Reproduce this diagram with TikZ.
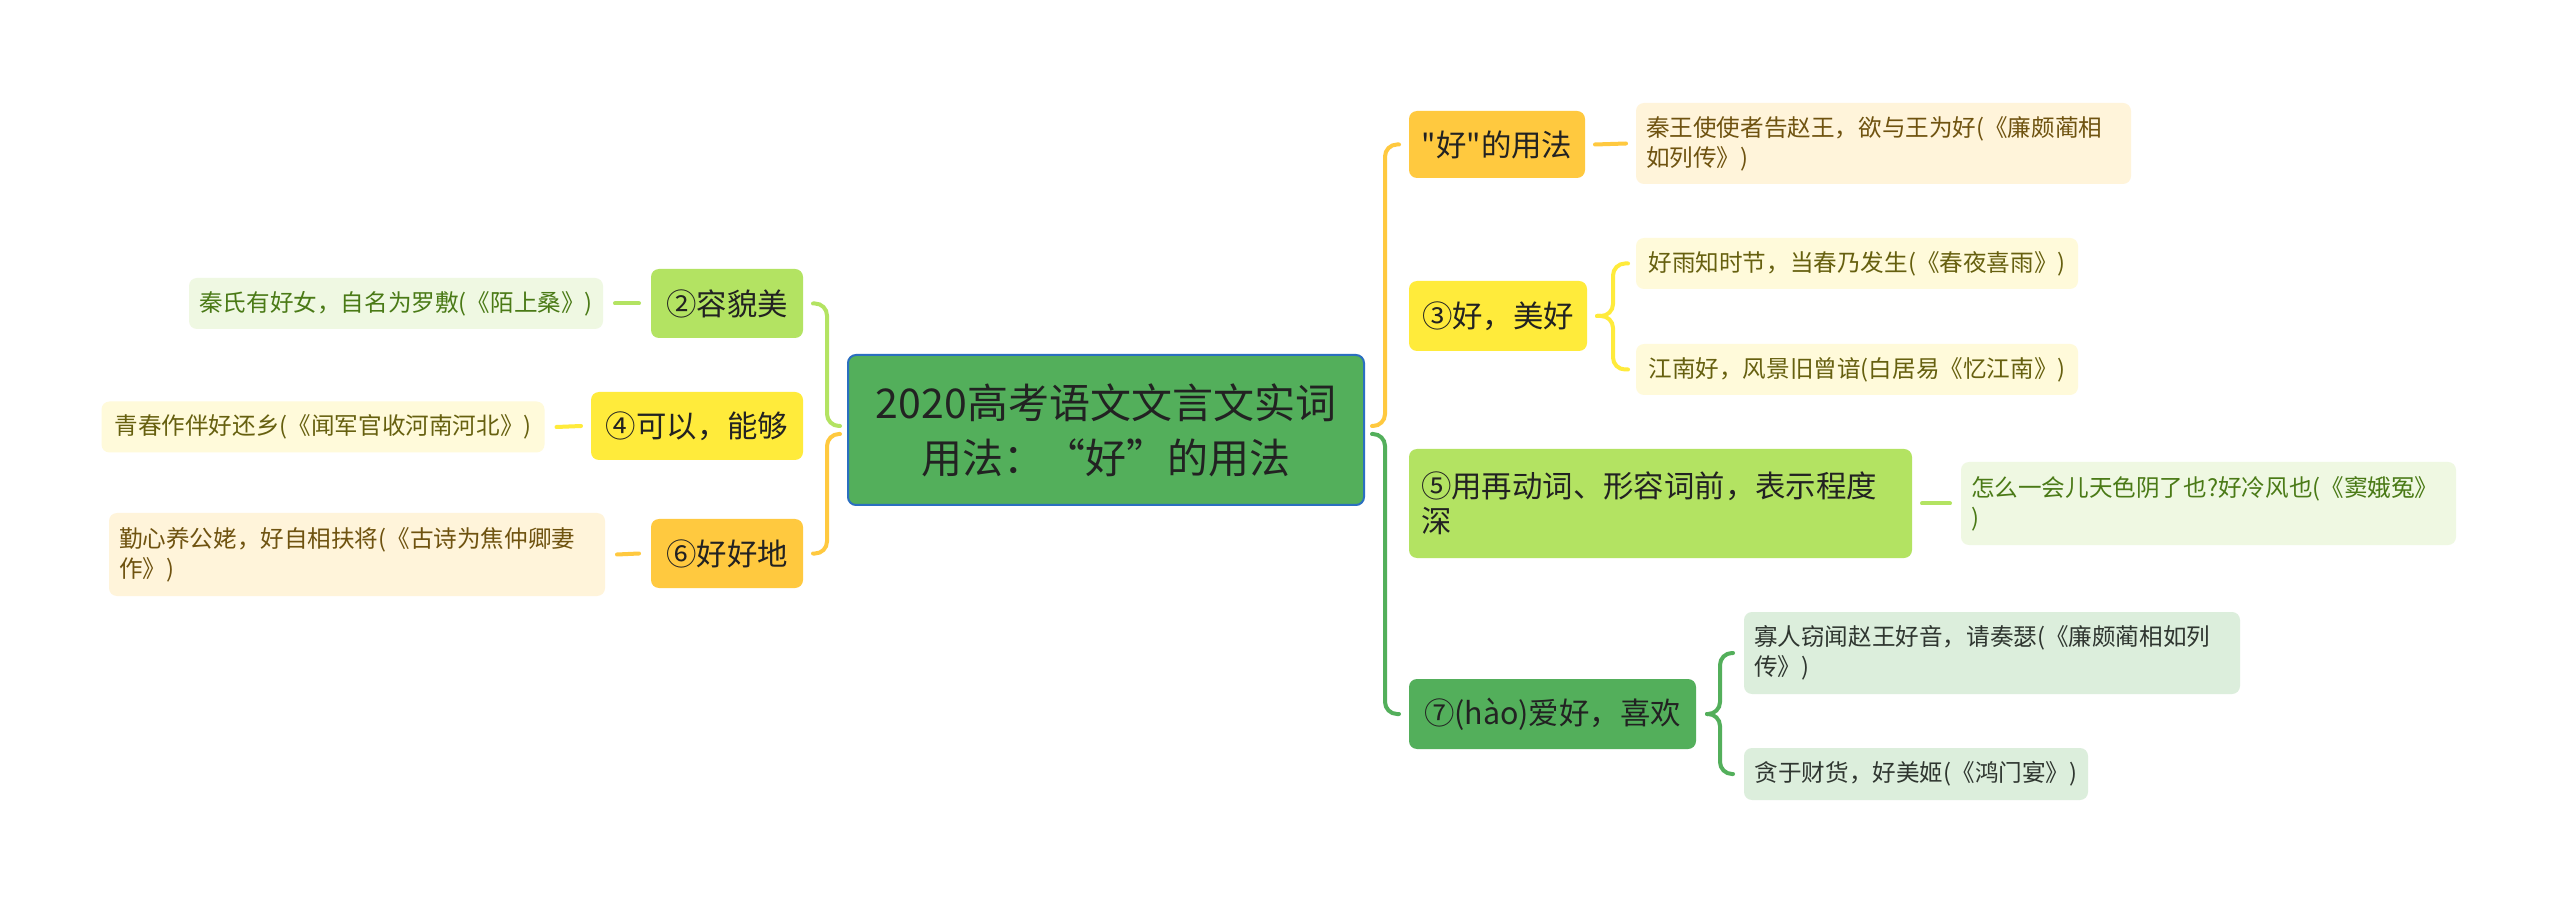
\documentclass[tikz,border=0pt]{standalone}
\usepackage{fontspec}
\setmainfont{Noto Sans CJK SC}[Ligatures=TeXOff]
\usetikzlibrary{calc}
\definecolor{cgreen}{HTML}{53AF5B}
\definecolor{cblue}{HTML}{2B6FC0}
\definecolor{corange}{HTML}{FFC93F}
\definecolor{cyellow}{HTML}{FFEB3B}
\definecolor{clgreen}{HTML}{B3E362}
\definecolor{lorange}{HTML}{FFF4DA}
\definecolor{lyellow}{HTML}{FFFADA}
\definecolor{llgreen}{HTML}{EFF8E2}
\definecolor{lgreen}{HTML}{DCEEDC}
\definecolor{torange}{HTML}{6F5310}
\definecolor{tyellow}{HTML}{66600F}
\definecolor{tlgreen}{HTML}{4A7A16}
\definecolor{tgreen}{HTML}{2F3630}
\definecolor{ctext}{HTML}{222222}
\begin{document}
\begin{tikzpicture}[x=0.5pt,y=-0.5pt,
  box/.style={rounded corners=4pt, inner sep=0pt, outer sep=0pt},
  leafbox/.style={box, font=\fontsize{11.8pt}{15pt}\selectfont},
  childbox/.style={box, font=\fontsize{15.2pt}{17.5pt}\selectfont, text=ctext, align=center},
  conn/.style={line width=2pt, line cap=round},
  brace/.style={conn, rounded corners=6pt}
]
\fill[white] (0,0) rectangle (2560,903);
\useasboundingbox (0,0) rectangle (2560,903);

% central node
\node[box, fill=cgreen, draw=cblue, line width=1pt, minimum width=258pt, minimum height=75pt,
  align=center, text=ctext, font=\fontsize{20.5pt}{27.5pt}\selectfont] (c) at (1106,430)
  {2020高考语文文言文实词\\用法：“好”的用法};

% right children
\node[childbox, fill=corange, minimum width=88pt, minimum height=33.5pt] (n1) at (1497,144.5) {"好"的用法};
\node[childbox, fill=cyellow, minimum width=89pt, minimum height=35pt] (n3) at (1498,316) {③好，美好};
\node[childbox, fill=clgreen, minimum width=251.5pt, minimum height=54.5pt, text width=239.5pt, align=left] (n5) at (1660.5,503.5) {⑤用再动词、形容词前，表示程度\\深};
\node[childbox, fill=cgreen, minimum width=143.5pt, minimum height=35pt] (n7) at (1552.5,714) {⑦(hào)爱好，喜欢};

% left children
\node[childbox, fill=clgreen, minimum width=76pt, minimum height=34.5pt] (n2) at (727,303.5) {②容貌美};
\node[childbox, fill=cyellow, minimum width=106pt, minimum height=34pt] (n4) at (697,426) {④可以，能够};
\node[childbox, fill=corange, minimum width=76pt, minimum height=34.5pt] (n6) at (727,553.5) {⑥好好地};

% right leaves
\node[leafbox, fill=lorange, text=torange, minimum width=247.5pt, minimum height=40.5pt, text width=237.5pt, align=left] (l1) at (1883.5,143.5) {秦王使使者告赵王，欲与王为好(《廉颇蔺相\\如列传》)};
\node[leafbox, fill=lyellow, text=tyellow, minimum width=221pt, minimum height=25.5pt, align=center] (l3a) at (1857,263.5) {好雨知时节，当春乃发生(《春夜喜雨》)};
\node[leafbox, fill=lyellow, text=tyellow, minimum width=221pt, minimum height=25.5pt, align=center] (l3b) at (1857,369.5) {江南好，风景旧曾谙(白居易《忆江南》)};
\node[leafbox, fill=llgreen, text=tlgreen, minimum width=247.5pt, minimum height=41.5pt, text width=237.5pt, align=left] (l5) at (2208.5,503.5) {怎么一会儿天色阴了也?好冷风也(《窦娥冤》\\)};
\node[leafbox, fill=lgreen, text=tgreen, minimum width=248pt, minimum height=41pt, text width=238pt, align=left] (l7a) at (1992,653) {寡人窃闻赵王好音，请奏瑟(《廉颇蔺相如列\\传》)};
\node[leafbox, fill=lgreen, text=tgreen, minimum width=172pt, minimum height=26pt, align=center] (l7b) at (1916,774) {贪于财货，好美姬(《鸿门宴》)};

% left leaves
\node[leafbox, fill=llgreen, text=tlgreen, minimum width=207pt, minimum height=25.5pt, align=center] (l2) at (396,303.5) {秦氏有好女，自名为罗敷(《陌上桑》)};
\node[leafbox, fill=lyellow, text=tyellow, minimum width=221.5pt, minimum height=25.5pt, align=center] (l4) at (323,427) {青春作伴好还乡(《闻军官收河南河北》)};
\node[leafbox, fill=lorange, text=torange, minimum width=248pt, minimum height=41.5pt, text width=238pt, align=left] (l6) at (357,554.5) {勤心养公姥，好自相扶将(《古诗为焦仲卿妻\\作》)};

% main connectors
\draw[brace, draw=corange] ([xshift=4pt,yshift=2pt]c.east) -| ([xshift=-12pt]n1.west) -- ([xshift=-5pt]n1.west);
\draw[brace, draw=cgreen] ([xshift=4pt,yshift=-2pt]c.east) -| ([xshift=-12pt]n7.west) -- ([xshift=-5pt]n7.west);
\draw[brace, draw=clgreen] ([xshift=-4pt,yshift=2pt]c.west) -| ([xshift=12pt]n2.east) -- ([xshift=5pt]n2.east);
\draw[brace, draw=corange] ([xshift=-4pt,yshift=-2pt]c.west) -| ([xshift=12pt]n6.east) -- ([xshift=5pt]n6.east);

% braces to leaves
\draw[brace, draw=cyellow] ([xshift=5pt]n3.east) -| ([xshift=-11.5pt]l3a.west) -- ([xshift=-4pt]l3a.west);
\draw[brace, draw=cyellow] ([xshift=5pt]n3.east) -| ([xshift=-11.5pt]l3b.west) -- ([xshift=-4pt]l3b.west);
\draw[brace, draw=cgreen] ([xshift=5.5pt]n7.east) -| ([xshift=-12pt]l7a.west) -- ([xshift=-5.5pt]l7a.west);
\draw[brace, draw=cgreen] ([xshift=5.5pt]n7.east) -| ([xshift=-12pt]l7b.west) -- ([xshift=-5.5pt]l7b.west);

% stubs
\draw[conn, draw=corange] ([xshift=5pt]n1.east) -- ([xshift=-5pt]l1.west);
\draw[conn, draw=clgreen] ([xshift=5pt]n5.east) -- ([xshift=-5.5pt]l5.west);
\draw[conn, draw=clgreen] ([xshift=-6pt]n2.west) -- ([xshift=6pt]l2.east);
\draw[conn, draw=cyellow] ([xshift=-5pt]n4.west) -- ([xshift=6pt]l4.east);
\draw[conn, draw=corange] ([xshift=-6pt]n6.west) -- ([xshift=6pt]l6.east);
\end{tikzpicture}
\end{document}
